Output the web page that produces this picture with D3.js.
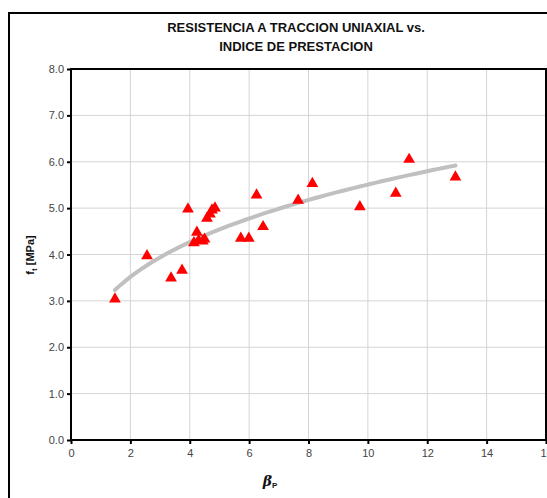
<!DOCTYPE html>
<html>
<head>
<meta charset="utf-8">
<script src="https://cdn.jsdelivr.net/npm/d3@7"></script>
<style>
body{margin:0;background:#fff;font-family:"Liberation Sans",Arial,sans-serif;}
</style>
</head>
<body>
<svg id="chart" width="547" height="498"></svg>
<script>
// data
var betaP = [1.48,2.56,3.37,3.74,3.94,4.14,4.24,4.44,4.58,4.68,4.75,4.85,4.30,4.50,5.72,5.99,6.25,6.47,7.65,8.13,9.73,10.94,11.39,12.95];
var ft    = [3.04,3.97,3.49,3.66,4.98,4.25,4.48,4.29,4.78,4.87,4.96,5.00,4.30,4.33,4.35,4.35,5.28,4.60,5.17,5.53,5.03,5.32,6.05,5.67];
var xTicks = [0,2,4,6,8,10,12,14,16];
var yTicks = [0,1,2,3,4,5,6,7,8];
var titleLines = ["RESISTENCIA A TRACCION UNIAXIAL vs.","INDICE DE PRESTACION"];

var svg = d3.select("#chart");
var pLeft = 71, pRight = 546, pTop = 69, pBottom = 440;

var x = d3.scaleLinear().domain([0,16]).range([pLeft,pRight]);
var y = d3.scaleLinear().domain([0,8]).range([pBottom,pTop]);

// outer frame
svg.append("rect").attr("x",9).attr("y",13).attr("width",560).attr("height",500)
	.attr("fill","none").attr("stroke","#000").attr("stroke-width",2);

// title
svg.selectAll(".title").data(titleLines).enter().append("text")
	.attr("x",296).attr("y",function(d,i){return 32+i*19;})
	.attr("text-anchor","middle").attr("font-size",13).attr("font-weight","bold")
	.attr("fill","#111").text(function(d){return d;});

// grid
svg.selectAll(".vg").data(xTicks).enter().append("line")
	.attr("x1",function(d){return x(d);}).attr("x2",function(d){return x(d);})
	.attr("y1",pTop).attr("y2",pBottom).attr("stroke","#d4d4d4").attr("stroke-width",1);
svg.selectAll(".hg").data(yTicks).enter().append("line")
	.attr("y1",function(d){return y(d);}).attr("y2",function(d){return y(d);})
	.attr("x1",pLeft).attr("x2",pRight).attr("stroke","#d4d4d4").attr("stroke-width",1);

// plot frame
svg.append("rect").attr("x",pLeft).attr("y",pTop).attr("width",pRight-pLeft).attr("height",pBottom-pTop)
	.attr("fill","none").attr("stroke","#000").attr("stroke-width",2);

// axes
var xAxis = d3.axisBottom(x).tickValues(xTicks).tickSize(4).tickPadding(5).tickFormat(d3.format("d"));
var yAxis = d3.axisLeft(y).tickValues(yTicks).tickSize(4).tickPadding(3).tickFormat(d3.format(".1f"));
var gx = svg.append("g").attr("transform","translate(0,"+pBottom+")").call(xAxis);
var gy = svg.append("g").attr("transform","translate("+pLeft+",0)").call(yAxis);
[gx,gy].forEach(function(g){
	g.select(".domain").remove();
	g.selectAll("line").attr("stroke","#000").attr("stroke-width",2);
	g.selectAll("text").attr("font-size",11).attr("fill","#444")
		.attr("font-family","'Liberation Sans',Arial,sans-serif");
});

// power trend line (least squares in log space)
var n = betaP.length, sx=0, sy=0, sxx=0, sxy=0;
for(var i=0;i<n;i++){
	var lx = Math.log(betaP[i]), ly = Math.log(ft[i]);
	sx+=lx; sy+=ly; sxx+=lx*lx; sxy+=lx*ly;
}
var b = (n*sxy-sx*sy)/(n*sxx-sx*sx);
var a = Math.exp((sy-b*sx)/n);
var xmin = d3.min(betaP), xmax = d3.max(betaP);
var trend = d3.range(0,61).map(function(k){var xv = xmin+(xmax-xmin)*k/60; return [xv, a*Math.pow(xv,b)];});
svg.append("path").datum(trend)
	.attr("d",d3.line().x(function(d){return x(d[0]);}).y(function(d){return y(d[1]);}))
	.attr("fill","none").attr("stroke","#c0c0c0").attr("stroke-width",4).attr("stroke-linecap","round");

// points
var tri = d3.symbol().type(d3.symbolTriangle).size(60);
svg.selectAll(".pt").data(betaP).enter().append("path")
	.attr("d",tri)
	.attr("transform",function(d,i){return "translate("+x(d)+","+y(ft[i])+")";})
	.attr("fill","#ff0000");

// axis titles
var yl = svg.append("text").attr("transform","translate(34,255) rotate(-90)")
	.attr("text-anchor","middle").attr("font-size",11).attr("font-weight","bold").attr("fill","#111");
yl.append("tspan").text("f");
yl.append("tspan").attr("font-size",8).attr("dy",3).text("t");
yl.append("tspan").attr("dy",-3).text(" [MPa]");

var xl = svg.append("text").attr("x",270).attr("y",486)
	.attr("text-anchor","middle").attr("font-size",14).attr("font-weight","bold").attr("fill","#111");
xl.append("tspan").attr("font-style","italic").attr("font-family","'DejaVu Serif',serif").text("β");
xl.append("tspan").attr("font-size",8).attr("dy",2).text("P");
</script>
</body>
</html>
